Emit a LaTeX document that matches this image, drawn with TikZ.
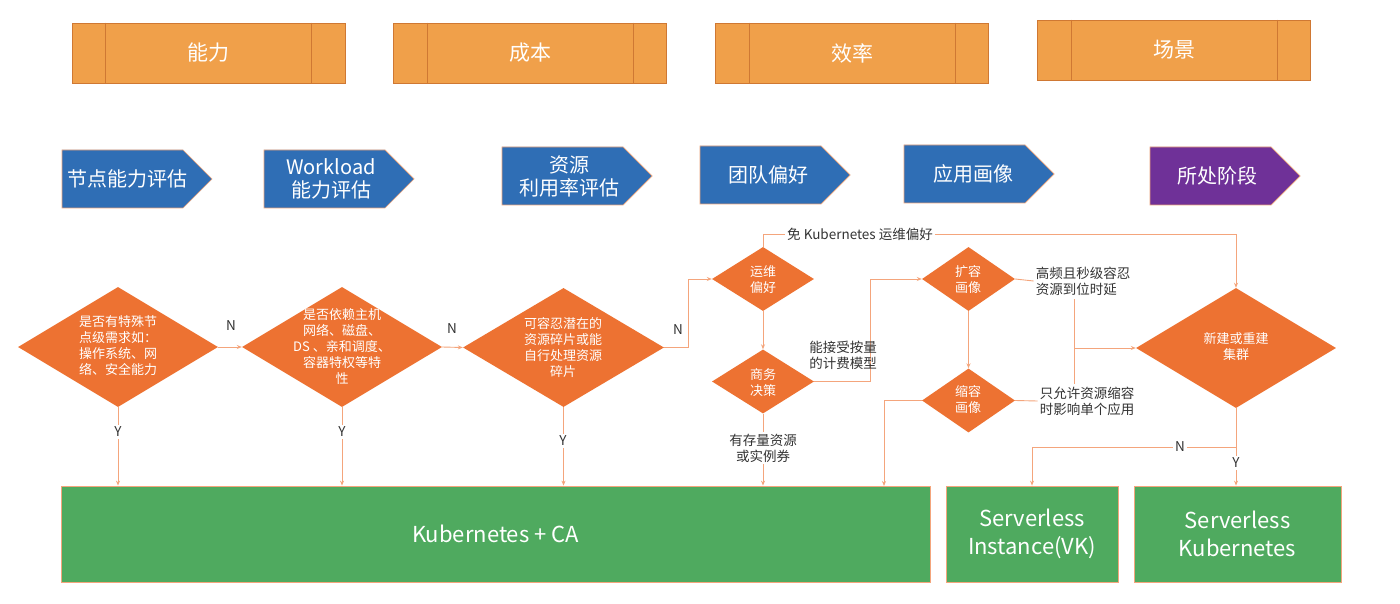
\documentclass[tikz,border=0pt]{standalone}
\usepackage{fontspec}
\setmainfont{Noto Sans CJK SC}
\usetikzlibrary{shapes.geometric,arrows.meta}
\definecolor{boxorange}{HTML}{F0A04A}
\definecolor{boxedge}{HTML}{CF7833}
\definecolor{arrblue}{HTML}{2F6EB5}
\definecolor{arrpurple}{HTML}{6F3198}
\definecolor{arredge}{HTML}{E9A27A}
\definecolor{dorange}{HTML}{ED7232}
\definecolor{kgreen}{HTML}{4FAA5F}
\definecolor{lineor}{HTML}{F4A57C}
\definecolor{txt}{HTML}{333333}
\newcommand\stagearrow[3]{%
  \filldraw[fill=#3, draw=arredge, line width=0.7pt] (#1,#2) -- ++(121,0) -- ++(29,29) -- ++(-29,29) -- ++(-121,0) -- cycle;}
\tikzset{
  topbox/.style={draw=boxedge, fill=boxorange, line width=0.8pt, minimum width=273pt, minimum height=60pt, inner sep=0pt, text=white, font=\fontsize{21}{24}\selectfont},
  stagetext/.style={text=white, align=center, font=\fontsize{20}{23}\selectfont},
  dia/.style n args={2}{diamond, fill=dorange, minimum width=#1, minimum height=#2, inner sep=0pt},
  diatext/.style={text=white, align=center, inner sep=0pt, font=\fontsize{13}{16}\selectfont},
  lab/.style={text=txt, align=center, inner sep=2pt, font=\fontsize{13.5}{16}\selectfont},
  labw/.style={lab, fill=white},
  labl/.style={lab, align=left},
  conn/.style={draw=lineor, line width=0.9pt},
  arr/.style={conn, -{Stealth[length=5pt,width=4pt]}},
  result/.style={fill=kgreen, draw=lineor, line width=0.8pt, inner sep=0pt, text=white, align=center, minimum height=96pt, font=\fontsize{22}{28}\selectfont},
}
\begin{document}
\begin{tikzpicture}[x=1pt,y=-1pt]
\useasboundingbox (0,0) rectangle (1400,604);
\fill[white] (0,0) rectangle (1400,604);

% top category boxes
\foreach \cx/\cy/\nm/\tx in {208.5/53/c1/能力, 530/53/c2/成本, 852/53/c3/效率, 1174/50/c4/场景}{
  \node[topbox] (\nm) at (\cx,\cy) {\tx};
  \draw[boxedge, line width=0.8pt] ([xshift=34pt]\nm.north west) -- ([xshift=34pt]\nm.south west);
  \draw[boxedge, line width=0.8pt] ([xshift=-34pt]\nm.north east) -- ([xshift=-34pt]\nm.south east);
}

% stage arrows
\stagearrow{62}{150}{arrblue}
\stagearrow{264}{150}{arrblue}
\stagearrow{502}{147}{arrblue}
\stagearrow{700}{146}{arrblue}
\stagearrow{904}{145}{arrblue}
\stagearrow{1150}{147}{arrpurple}
\node[stagetext] (s1) at (127,179) {节点能力评估};
\node[stagetext] (s2) at (331,179) {Workload\\能力评估};
\node[stagetext] (s3) at (569,176) {资源\\利用率评估};
\node[stagetext] (s4) at (768,175) {团队偏好};
\node[stagetext] (s5) at (973,174) {应用画像};
\node[stagetext] (s6) at (1217,176) {所处阶段};

% result boxes
\node[result, minimum width=869pt] (kca) at (495.5,534) {Kubernetes + CA};
\node[result, minimum width=172pt] (si) at (1032,534) {Serverless\\Instance(VK)};
\node[result, minimum width=207pt] (sk) at (1237.5,534) {Serverless\\Kubernetes};

% diamonds
\node[dia={200pt}{120pt}] (d1) at (118,347) {};
\node[dia={200pt}{120pt}] (d2) at (342,347) {};
\node[dia={201pt}{119pt}] (d3) at (563.5,347.5) {};
\node[dia={102pt}{64pt}] (d4) at (763,279) {};
\node[dia={102pt}{64pt}] (d5) at (763,381.5) {};
\node[dia={93pt}{64pt}] (d6) at (968.5,279) {};
\node[dia={93pt}{64pt}] (d8) at (968.5,400.5) {};
\node[dia={200pt}{120pt}] (d7) at (1236,348) {};

\node[diatext] (t1) at (118,346) {是否有特殊节\\点级需求如：\\操作系统、网\\络、安全能力};
\node[diatext] (t2) at (342,347) {是否依赖主机\\网络、磁盘、\\DS 、亲和调度、\\容器特权等特\\性};
\node[diatext] (t3) at (563,348) {可容忍潜在的\\资源碎片或能\\自行处理资源\\碎片};
\node[diatext] (t4) at (763,280) {运维\\偏好};
\node[diatext] (t5) at (763,383) {商务\\决策};
\node[diatext] (t6) at (968,280) {扩容\\画像};
\node[diatext] (t8) at (968,400) {缩容\\画像};
\node[diatext] (t7) at (1236,347) {新建或重建\\集群};

% connectors
\draw[arr] (d1.east) -- (d2.west);
\draw[arr] (d2.east) -- (d3.west);
\node[lab] (n1) at (231,326) {N};
\node[lab] (n2) at (452,329) {N};

\draw[arr] (d1.south) -- (d1.south |- kca.north);
\draw[arr] (d2.south) -- (d2.south |- kca.north);
\draw[arr] (d3.south) -- (d3.south |- kca.north);
\node[labw] (y1) at (118,432) {Y};
\node[labw] (y2) at (342,432) {Y};
\node[labw] (y3) at (563,441) {Y};

\draw[arr] (d3.east) -- ++(24,0) |- (d4.west);
\node[lab] (n3) at (678,330) {N};

\node[lab] (mk) at (860,234) {免 Kubernetes 运维偏好};
\draw[conn] (d4.north) |- (mk.west);
\draw[arr] (mk.east) -| (d7.north);

\draw[arr] (d4.south) -- (d5.north);
\draw[arr] (d5.east) -- ++(56,0) |- (d6.west);
\node[lab] (pay) at (843,355) {能接受按量\\的计费模型};

\draw[arr] (d5.south) -- (d5.south |- kca.north);
\node[labw] (stock) at (763,448) {有存量资源\\或实例券};

\draw[arr] (d6.south) -- (d8.north);
\coordinate (k5) at (884,486);
\draw[arr] (d8.west) -| (k5);

\node[labl] (g1) at (1083,281) {高频且秒级容忍\\资源到位时延};
\node[labl] (g2) at (1087,401) {只允许资源缩容\\时影响单个应用};
\draw[conn] (d6.east) -- (g1.west);
\draw[conn] (d8.east) -- (g2.west);
\coordinate (jt) at (1074,299);
\coordinate (jb) at (1074,384);
\coordinate (jm) at (1074,348);
\draw[conn] (jt) -- (jb);
\draw[arr] (jm) -- (d7.west);

\draw[arr] (d7.south) -- (d7.south |- sk.north);
\coordinate (br) at (1236,447);
\draw[arr] (br) -| (si.north);
\node[labw] (n4) at (1180,447) {N};
\node[labw] (y4) at (1236,463) {Y};
\end{tikzpicture}
\end{document}
